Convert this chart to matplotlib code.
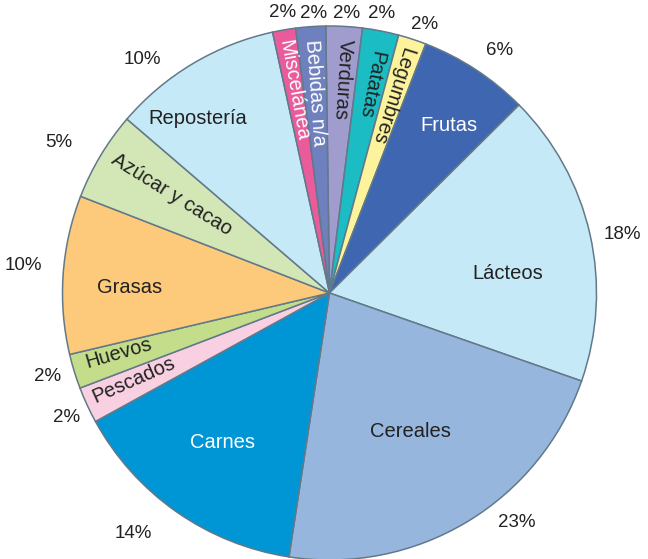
import numpy as np
import matplotlib.pyplot as plt

plt.rcParams['font.family'] = ['Liberation Sans', 'DejaVu Sans']

# slices clockwise from the top
names = ['Verduras', 'Patatas', 'Legumbres', 'Frutas', 'Lácteos', 'Cereales', 'Carnes',
         'Pescados', 'Huevos', 'Grasas', 'Azúcar y cacao', 'Repostería', 'Miscelánea', 'Bebidas n/a']
sizes = [2.2, 2.2, 1.7, 6.7, 17.8, 22.1, 14.6, 2.2, 2.1, 9.6, 5.4, 10.3, 1.4, 1.8]
pct_labels = ['2%', '2%', '2%', '6%', '18%', '23%', '14%', '2%', '2%', '10%', '5%', '10%', '2%', '2%']

colors = ['#a09ccd', '#1bbcc3', '#fdf39c', '#3f67b1', '#c6e9f8', '#97b6de', '#0096d6',
          '#f8d0e1', '#c3dd8b', '#fdc97a', '#d3e6b6', '#c6e9f8', '#e95b9b', '#6e80bd']
text_col = ['#222222', '#222222', '#222222', 'white', '#222222', '#222222', 'white',
            '#222222', '#222222', '#222222', '#222222', '#222222', 'white', 'white']
# name labels: (angle clockwise from north, radius fraction), radial rotation or not
lab_pos = [(3.5, 0.80), (11.3, 0.795), (17.6, 0.774), (35.6, 0.77), (83.6, 0.67), (149.6, 0.60),
           (215.6, 0.69), (246.1, 0.80), (253.9, 0.82), (271.7, 0.75), (301.9, 0.695), (322.9, 0.82),
           (-10.1, 0.77), (-4.0, 0.75)]
radial = [True, True, True, False, False, False, False, True, True, False, True, False, True, True]
# percent labels: (angle clockwise from north, radius fraction)
pct_pos = [(3.4, 1.05), (10.6, 1.065), (19.5, 1.068), (35, 1.11), (78.8, 1.12), (140.8, 1.11),
           (219.2, 1.16), (244.6, 1.09), (253.4, 1.10), (275.2, 1.15), (299, 1.16), (321.3, 1.12),
           (-9.6, 1.064), (-3.2, 1.05)]

W, H = 648, 559
cx, cy, R = 329.5, H - 293, 267

fig = plt.figure(figsize=(W / 100, H / 100), dpi=100)
ax = fig.add_axes([0, 0, 1, 1])

wedges, _ = ax.pie(sizes, colors=colors, startangle=90.8, counterclock=False,
                   center=(cx, cy), radius=R, frame=True,
                   wedgeprops=dict(edgecolor='#62798a', linewidth=1.1))
ax.set_xlim(0, W)
ax.set_ylim(0, H)
ax.set_aspect('equal')
ax.axis('off')

for (th, r), name, rad, tc in zip(lab_pos, names, radial, text_col):
    x = cx + r * R * np.sin(np.radians(th))
    y = cy + r * R * np.cos(np.radians(th))
    rot = (90 - th - 180) if rad else 0
    ax.text(x, y, name, ha='center', va='center', rotation=rot,
            rotation_mode='anchor', fontsize=14.5, color=tc)

for (th, r), lab in zip(pct_pos, pct_labels):
    x = cx + r * R * np.sin(np.radians(th))
    y = cy + r * R * np.cos(np.radians(th))
    ax.text(x, y, lab, ha='center', va='center', fontsize=13.5, color='#222222')

fig.savefig('out.png', dpi=100)
